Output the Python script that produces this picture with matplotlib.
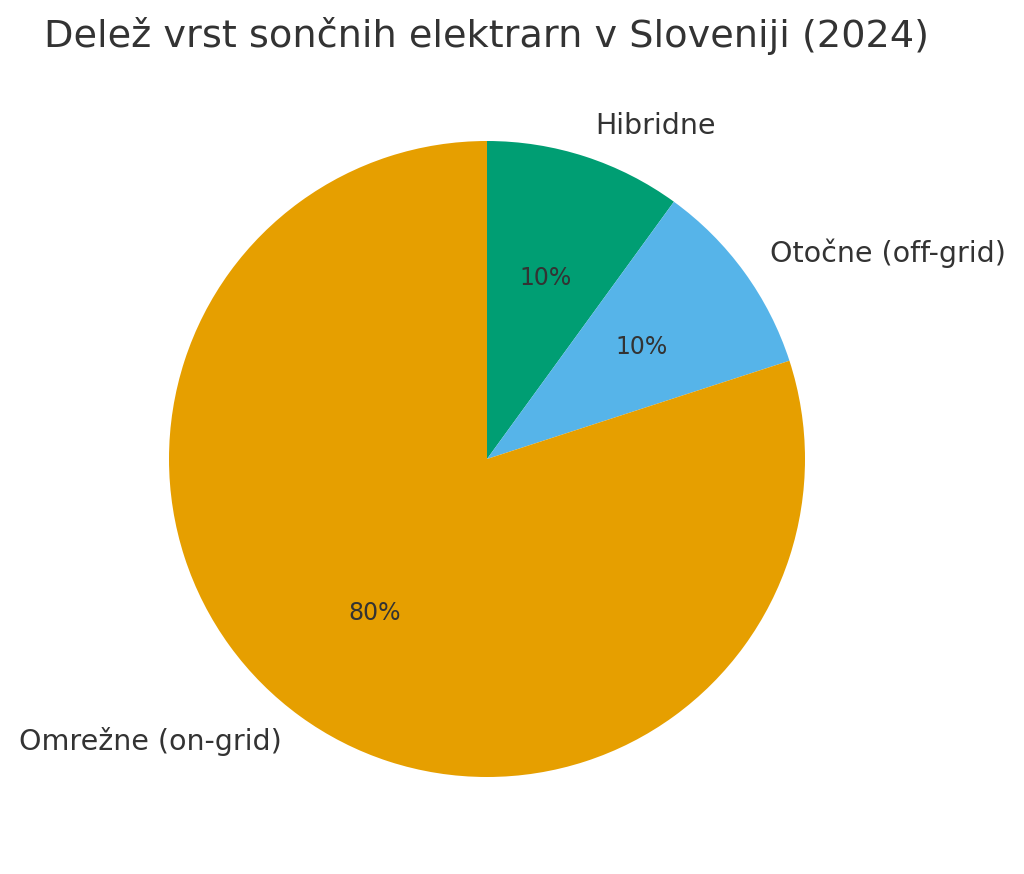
import matplotlib
matplotlib.use("Agg")
import matplotlib.pyplot as plt

labels = ["Hibridne", "Otočne (off-grid)", "Omrežne (on-grid)"]
shares = [10, 10, 80]
colors = ["#009E73", "#56B4E9", "#E69F00"]
title = "Delež vrst sončnih elektrarn v Sloveniji (2024)"

fig = plt.figure(figsize=(10.24, 8.74), dpi=100)
cx, cy, r = 487, 459, 318
W, H = 1024, 874
ax = fig.add_axes([(cx - r) / W, (H - cy - r) / H, 2 * r / W, 2 * r / H])
wedges, texts, autotexts = ax.pie(
    shares, labels=labels, colors=colors, startangle=90, counterclock=False,
    autopct="%1.0f%%", labeldistance=1.1, pctdistance=0.6,
    textprops={"fontsize": 20.5, "color": "#333333"},
)
for t in autotexts:
    t.set_fontsize(17)
    t.set_color("#333333")
ax.set_xlim(-1, 1)
ax.set_ylim(-1, 1)
ax.set_aspect("equal")
fig.text(486 / W, 1 - 36 / H, title, ha="center", va="center", fontsize=27.5, color="#333333")
fig.savefig("out.png", dpi=100)
